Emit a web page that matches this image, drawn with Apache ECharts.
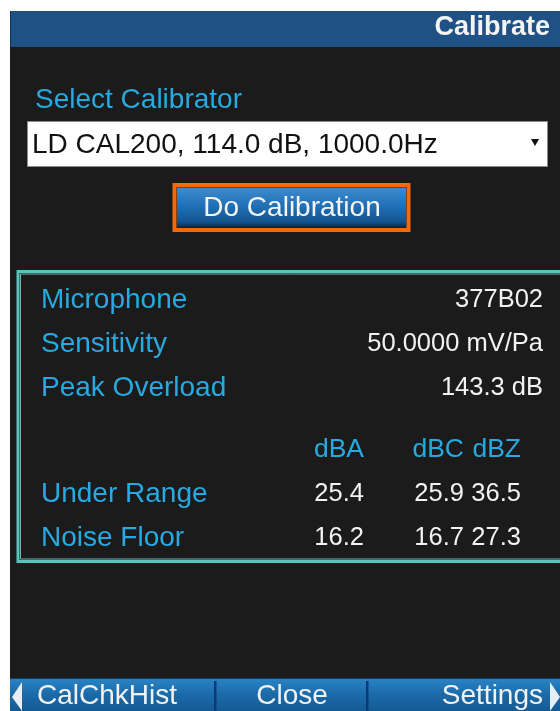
<!DOCTYPE html>
<html>
<head>
<meta charset="utf-8">
<style>
html,body{margin:0;padding:0;background:#ffffff;}
#chart{width:560px;height:711px;}
</style>
<script src="https://cdn.jsdelivr.net/npm/echarts@6/dist/echarts.min.js"></script>
</head>
<body>
<div id="chart"></div>
<script>
// ---- data ----
var screenTitle = 'Calibrate';
var selectLabel = 'Select Calibrator';
var calibratorChoice = 'LD CAL200, 114.0 dB, 1000.0Hz';
var actionButton = 'Do Calibration';
var infoLabels = ['Microphone', 'Sensitivity', 'Peak Overload'];
var infoValues = ['377B02', '50.0000 mV/Pa', '143.3 dB'];
var weightings = ['dBA', 'dBC', 'dBZ'];
var rangeRows = ['Under Range', 'Noise Floor'];
var dbaValues = [25.4, 16.2];
var dbcValues = [25.9, 16.7];
var dbzValues = [36.5, 27.3];
var footerButtons = ['CalChkHist', 'Close', 'Settings'];

// ---- drawing ----
var FONT = '"Liberation Sans", Arial, sans-serif';
var BLUE_TEXT = '#27a9e1';
var WHITE_TEXT = '#f2f2f2';

function txt(x, y, s, fill, size, align, bold) {
  return {
    type: 'text',
    style: {
      x: x, y: y, text: s, fill: fill,
      font: (bold ? 'bold ' : '') + size + 'px ' + FONT,
      align: align || 'left', textAlign: align || 'left',
      verticalAlign: 'middle', textVerticalAlign: 'middle'
    }
  };
}
function rect(x, y, w, h, fill, stroke, lw) {
  return {
    type: 'rect',
    shape: { x: x, y: y, width: w, height: h },
    style: { fill: fill || 'none', stroke: stroke || 'none', lineWidth: lw || 0 }
  };
}

var els = [];
// dark screen
els.push(rect(10, 11, 550, 700, '#1b1b1b'));
// title bar
els.push(rect(10, 11, 550, 36, '#1f5185'));
els.push(rect(10, 11, 1, 36, '#123556'));
els.push(txt(550, 28, screenTitle, '#f4f4f4', 27, 'right', true));

// select label
els.push(txt(35, 100, selectLabel, BLUE_TEXT, 28, 'left'));
// dropdown
els.push(rect(27.5, 121.5, 520, 45, '#ffffff', '#8a8a8a', 1));
els.push(txt(32, 145, calibratorChoice, '#111111', 28, 'left'));
els.push({
  type: 'polygon',
  shape: { points: [[531, 139], [539, 139], [535, 146]] },
  style: { fill: '#111111' }
});

// Do Calibration button
els.push(rect(174.5, 185, 234, 45, 'none', '#f26a10', 4));
els.push({
  type: 'rect',
  shape: { x: 177, y: 187.5, width: 229, height: 40 },
  style: {
    fill: new echarts.graphic.LinearGradient(0, 0, 0, 1, [
      { offset: 0, color: '#3d8cd0' },
      { offset: 0.5, color: '#1f6db3' },
      { offset: 0.85, color: '#14558f' },
      { offset: 1, color: '#072a4a' }
    ])
  }
});
els.push(txt(292, 208, actionButton, '#f4f4f4', 28, 'center'));

// info panel
els.push(rect(18, 271.5, 560, 290, 'none', '#56c6bb', 3));
els.push(rect(20.5, 274, 560, 285, 'none', '#8fdcd3', 0.8));
var rowY = [300, 344, 388];
for (var i = 0; i < infoLabels.length; i++) {
  els.push(txt(41, rowY[i], infoLabels[i], BLUE_TEXT, 28, 'left'));
  els.push(txt(543, rowY[i], infoValues[i], WHITE_TEXT, 25.5, 'right'));
}
var colRight = [364, 464, 521];
var headerY = 450;
for (var j = 0; j < weightings.length; j++) {
  els.push(txt(colRight[j], headerY, weightings[j], BLUE_TEXT, 26.5, 'right'));
}
var tableY = [494, 538];
var cols = [dbaValues, dbcValues, dbzValues];
for (var r = 0; r < rangeRows.length; r++) {
  els.push(txt(41, tableY[r], rangeRows[r], BLUE_TEXT, 28, 'left'));
  for (var c = 0; c < cols.length; c++) {
    els.push(txt(colRight[c], tableY[r], cols[c][r].toFixed(1), WHITE_TEXT, 25.5, 'right'));
  }
}

// footer bar
els.push({
  type: 'rect',
  shape: { x: 10, y: 678, width: 550, height: 33 },
  style: {
    fill: new echarts.graphic.LinearGradient(0, 0, 0, 1, [
      { offset: 0, color: '#2a85c6' },
      { offset: 0.5, color: '#1b6aa8' },
      { offset: 1, color: '#135a94' }
    ])
  }
});
els.push(rect(10, 678, 550, 1, '#0d3d66'));
els.push(rect(214, 681, 2.5, 30, '#0b3a78'));
els.push(rect(366, 681, 2.5, 30, '#0b3a78'));
els.push({
  type: 'polygon',
  shape: { points: [[22, 682], [22, 711], [12, 697]] },
  style: { fill: '#e8eef4' }
});
els.push({
  type: 'polygon',
  shape: { points: [[550, 682], [550, 711], [560, 697]] },
  style: { fill: '#e8eef4' }
});
els.push(txt(37, 696, footerButtons[0], '#f2f2f2', 28, 'left'));
els.push(txt(292, 696, footerButtons[1], '#f2f2f2', 28, 'center'));
els.push(txt(543, 696, footerButtons[2], '#f2f2f2', 28, 'right'));

var chart = echarts.init(document.getElementById('chart'), null, { renderer: 'canvas' });
chart.setOption({
  backgroundColor: '#ffffff',
  animation: false,
  graphic: { elements: els }
});
</script>
</body>
</html>
